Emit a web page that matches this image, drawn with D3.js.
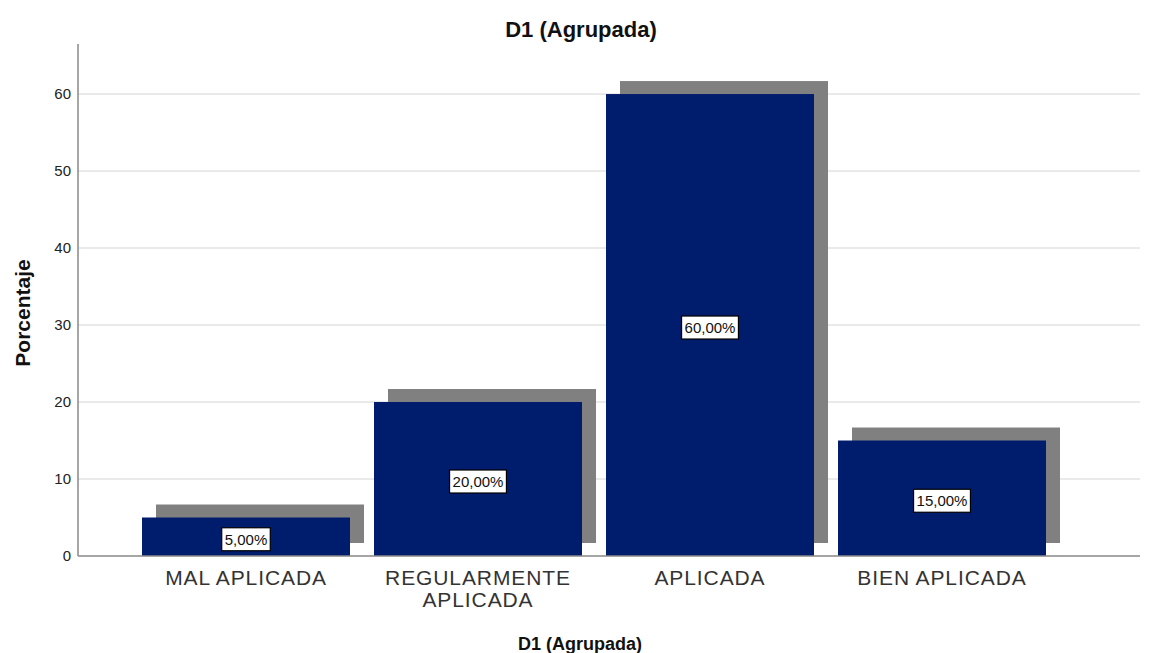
<!DOCTYPE html>
<html>
<head>
<meta charset="utf-8">
<script src="https://cdn.jsdelivr.net/npm/d3@7"></script>
<style>
  body { margin: 0; background: #fff; }
  text { font-family: "Liberation Sans", Arial, sans-serif; }
</style>
</head>
<body>
<script>
var categories = [["MAL APLICADA"], ["REGULARMENTE", "APLICADA"], ["APLICADA"], ["BIEN APLICADA"]];
var values = [5, 20, 60, 15];
var labels = ["5,00%", "20,00%", "60,00%", "15,00%"];
var yTicks = [0, 10, 20, 30, 40, 50, 60];

var width = 1151,
    height = 653;

var svg = d3.select("body").append("svg")
    .attr("width", width)
    .attr("height", height);

var x = d3.scaleBand()
    .domain(d3.range(values.length))
    .range([130, 1058])
    .paddingInner(24 / 232)
    .paddingOuter(12 / 232);

var y = d3.scaleLinear()
    .domain([0, 66.5])
    .range([556, 44]);

var left = 78, right = 1140;

// grid
svg.append("g").selectAll("line")
    .data(yTicks.filter(function(d) { return d > 0; }))
  .enter().append("line")
    .attr("x1", left).attr("x2", right)
    .attr("y1", function(d) { return y(d); })
    .attr("y2", function(d) { return y(d); })
    .attr("stroke", "#d4d4d4")
    .attr("stroke-width", 1);

// shadows
var dx = 14, dy = -13;
svg.append("g").selectAll("rect")
    .data(values)
  .enter().append("rect")
    .attr("x", function(d, i) { return x(i) + dx; })
    .attr("y", function(d) { return y(d) + dy; })
    .attr("width", x.bandwidth())
    .attr("height", function(d) { return y(0) - y(d); })
    .attr("fill", "#808080");

// bars
svg.append("g").selectAll("rect")
    .data(values)
  .enter().append("rect")
    .attr("x", function(d, i) { return x(i); })
    .attr("y", function(d) { return y(d); })
    .attr("width", x.bandwidth())
    .attr("height", function(d) { return y(0) - y(d); })
    .attr("fill", "#001c6c");

// axes
var yAxis = svg.append("g")
    .attr("transform", "translate(" + left + ",0)")
    .call(d3.axisLeft(y).tickValues(yTicks).tickSize(0).tickPadding(7));
yAxis.select(".domain").remove();
yAxis.selectAll("text").attr("font-size", 15).attr("fill", "#222")
    .attr("font-family", "Liberation Sans, Arial, sans-serif");

svg.append("line")
    .attr("x1", left).attr("x2", left)
    .attr("y1", 44).attr("y2", y(0))
    .attr("stroke", "#888").attr("stroke-width", 1.5);
svg.append("line")
    .attr("x1", left).attr("x2", right)
    .attr("y1", y(0)).attr("y2", y(0))
    .attr("stroke", "#888").attr("stroke-width", 1.5);

// value labels
var lab = svg.append("g").selectAll("g")
    .data(values)
  .enter().append("g")
    .attr("transform", function(d, i) {
      return "translate(" + (x(i) + x.bandwidth() / 2) + "," + (y(d / 2) + 2.5) + ")";
    });
lab.append("text")
    .attr("text-anchor", "middle")
    .attr("dy", "0.36em")
    .attr("font-size", 15)
    .attr("fill", "#111")
    .text(function(d, i) { return labels[i]; });
lab.each(function() {
  var g = d3.select(this);
  var bb = g.select("text").node().getBBox();
  g.insert("rect", "text")
    .attr("x", bb.x - 3).attr("y", -11.5)
    .attr("width", bb.width + 6).attr("height", 23)
    .attr("fill", "#fff").attr("stroke", "#000").attr("stroke-width", 1.2);
});

// category labels
var cat = svg.append("g").selectAll("text")
    .data(categories)
  .enter().append("text")
    .attr("text-anchor", "middle")
    .attr("font-size", 21)
    .attr("letter-spacing", 0.9)
    .attr("fill", "#333")
    .attr("x", function(d, i) { return x(i) + x.bandwidth() / 2; })
    .attr("y", 585);
cat.selectAll("tspan")
    .data(function(d) { return d; })
  .enter().append("tspan")
    .attr("x", function() { return d3.select(this.parentNode).attr("x"); })
    .attr("dy", function(d, i) { return i === 0 ? 0 : 22; })
    .text(function(d) { return d; });

// titles
svg.append("text")
    .attr("x", 581).attr("y", 37)
    .attr("text-anchor", "middle")
    .attr("font-size", 22).attr("font-weight", "bold").attr("fill", "#111")
    .text("D1 (Agrupada)");
svg.append("text")
    .attr("x", 580).attr("y", 650)
    .attr("text-anchor", "middle")
    .attr("font-size", 18).attr("font-weight", "bold").attr("fill", "#111")
    .text("D1 (Agrupada)");
svg.append("text")
    .attr("transform", "translate(30,313) rotate(-90)")
    .attr("text-anchor", "middle")
    .attr("font-size", 21).attr("font-weight", "bold").attr("fill", "#111")
    .text("Porcentaje");
</script>
</body>
</html>
